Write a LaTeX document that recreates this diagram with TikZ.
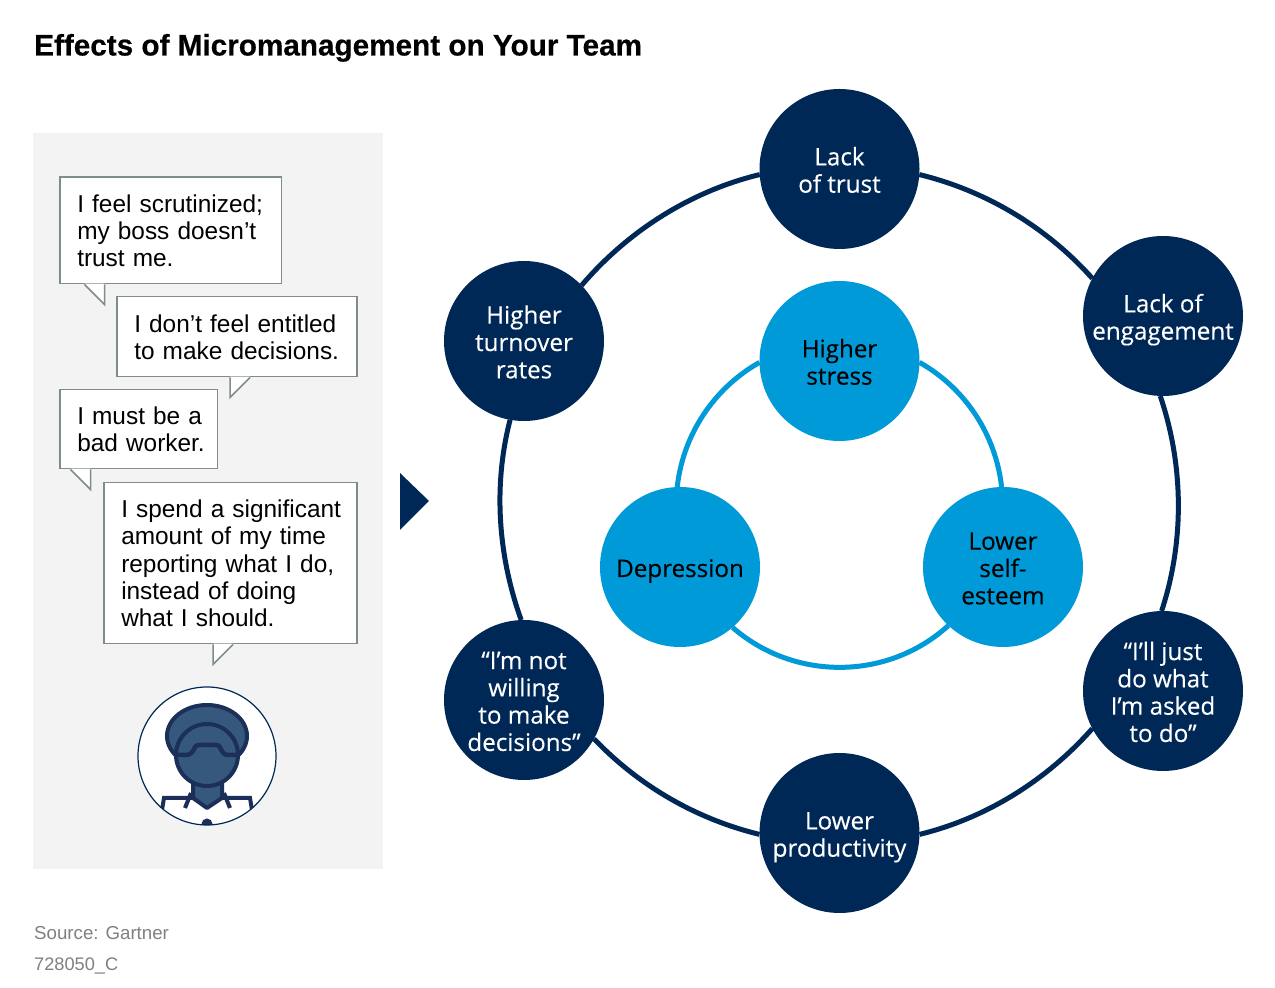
\documentclass[tikz,border=0pt]{standalone}
\usepackage{fontspec}
\setmainfont{Liberation Sans}
\newfontfamily\medfont[FakeBold=0.3]{Open Sans}
\newfontfamily\titlefont[FakeBold=0.4]{Liberation Sans}
\newcommand{\topstrut}{\rule{0pt}{28pt}}
\newcommand{\botstrut}{\rule[-8pt]{0pt}{8pt}}
\definecolor{navy}{HTML}{002856}
\definecolor{sky}{HTML}{009AD9}
\definecolor{panelgray}{HTML}{F3F3F3}
\definecolor{bubbleline}{HTML}{7F8C8C}
\definecolor{sourcegray}{HTML}{808080}
\definecolor{personfill}{HTML}{36587C}
\definecolor{personline}{HTML}{1B2F58}
\tikzset{
  outernode/.style={circle, fill=navy, text=white, minimum size=160pt, inner sep=-10pt, outer sep=0pt, align=center, font=\medfont\fontsize{24.2}{27.3}\selectfont, execute at end node=\botstrut},
  innernode/.style={circle, fill=sky, text=black, minimum size=160pt, inner sep=-10pt, outer sep=0pt, align=center, font=\medfont\fontsize{24.2}{27.3}\selectfont, execute at end node=\botstrut},
  outerlink/.style={navy, line width=5pt, looseness=0.87},
  innerlink/.style={sky, line width=5pt, looseness=0.9},
  bubble/.style={draw=bubbleline, fill=white, line width=1.5pt, anchor=north west, inner sep=0pt, align=left, font=\fontsize{24.4}{27.3}\selectfont, execute at begin node=\rule{0pt}{26pt}, execute at end node=\botstrut},
  personpart/.style={draw=personline, fill=personfill, line width=4pt},
}
\begin{document}
\begin{tikzpicture}[x=1pt, y=1pt]
	\path[use as bounding box, fill=white] (0, 0) rectangle (1275, 988) ;

	\node[anchor=base west, inner sep=0pt, font=\titlefont\bfseries\fontsize{29.7}{32}\selectfont] (title) at (34, 932.5) {Effects of Micromanagement on Your Team} ;

	\fill[panelgray] (33, 119) rectangle (383, 855) ;

	% speech bubbles
	\node[bubble, minimum width=221.5pt, minimum height=106.5pt, text width=186.5pt] (feel) at (59, 811.5) {\mbox{I feel scrutinized;}\\my boss doesn’t\\trust me.} ;
	\node[bubble, minimum width=240pt, minimum height=80pt, text width=205pt] (entitled) at (116, 692) {\mbox{I don’t feel entitled}\\\mbox{to make decisions.}} ;
	\node[bubble, minimum width=157.5pt, minimum height=79pt, text width=122.5pt] (worker) at (59, 599) {\mbox{I must be a}\\\mbox{bad worker.}} ;
	\node[bubble, minimum width=253pt, minimum height=161pt, text width=218pt] (spend) at (103, 506) {\mbox{I spend a significant}\\amount of my time\\reporting what I do,\\instead of doing\\what I should.} ;
	\foreach \name/\from/\tip/\to in {feel/25.5/45.5/45.5, entitled/114/114/134, worker/11.5/31.5/31.5, spend/110/110/130} {
		\fill[white] ([shift={(\from, 0.8)}]\name.south west) -- ([shift={(\tip, -20)}]\name.south west) -- ([shift={(\to, 0.8)}]\name.south west) -- cycle ;
		\draw[bubbleline, line width=1.5pt] ([shift={(\from, 0)}]\name.south west) -- ([shift={(\tip, -20)}]\name.south west) -- ([shift={(\to, 0)}]\name.south west) ;
	}

	% person
	\begin{scope}[shift={(207, 232)}]
		\fill[white] (0, 0) circle (69) ;
		\begin{scope}
			\clip (0, 0) circle (69) ;
			\draw[personline, line width=4pt, fill=white] (-45, -54) -- (-43, -42) -- (43, -42) -- (45, -54) ;
			\draw[personpart] (0, 20) ellipse (40 and 31) ;
			\draw[personpart, line join=round] (-14, -24) -- (-14, -42) -- (0, -52) -- (15, -42) -- (15, -24) ;
			\draw[personline, line width=4pt] (-16, -37) -- (-22, -52) ;
			\draw[personline, line width=4pt] (17, -37) -- (23, -52) ;
			\draw[personpart] (0, 1) circle (31) ;
			\draw[personline, line width=4.5pt] (-31, 1) -- (-21, 1) to[out=0, in=-110] (-12, 9) to[out=70, in=180] (-7, 11) -- (8, 11) to[out=0, in=110] (13, 9) to[out=-70, in=180] (21, 1) -- (31, 1) ;
			\fill[personline] (0, -68) circle (5.5) ;
		\end{scope}
		\draw[navy, line width=1.2pt] (0, 0) circle (69) ;
	\end{scope}

	\fill[navy] (400, 515) -- (429, 487) -- (400, 458) -- cycle ;

	% outer ring
	\node[outernode] (trust) at (839.5, 819) {\topstrut Lack\\of trust} ;
	\node[outernode] (engagement) at (1163, 672) {\topstrut Lack of\\engagement} ;
	\node[outernode] (asked) at (1163, 297) {\topstrut “I’ll just\\do what\\I’m asked\\to do”} ;
	\node[outernode] (productivity) at (839.5, 155) {\topstrut Lower\\productivity} ;
	\node[outernode] (willing) at (524, 288) {\topstrut “I’m not\\willing\\to make\\decisions”} ;
	\node[outernode] (turnover) at (524, 647) {\topstrut Higher\\turnover\\rates} ;

	\draw[outerlink] (trust.-4.7) to[out=-13.6, in=131.75] (engagement.152.6) ;
	\draw[outerlink] (engagement.-92.1) to[out=-71.2, in=71.77] (asked.91.4) ;
	\draw[outerlink] (asked.208.9) to[out=-131.5, in=13.65] (productivity.-1) ;
	\draw[outerlink] (productivity.181) to[out=166.35, in=-46.34] (willing.-29.2) ;
	\draw[outerlink] (willing.92.7) to[out=109.86, in=255.47] (turnover.260.5) ;
	\draw[outerlink] (turnover.44.4) to[out=49.53, in=193.6] (trust.184.7) ;

	% inner ring
	\node[innernode] (stress) at (839.5, 627) {\topstrut Higher\\stress} ;
	\node[innernode] (esteem) at (1003, 421) {\topstrut Lower\\self-\\esteem} ;
	\node[innernode] (depression) at (680, 421) {\topstrut Depression} ;

	\draw[innerlink] (stress.-1.4) to[out=-29.4, in=96.3] (esteem.91.4) ;
	\draw[innerlink, looseness=0.97] (esteem.227.2) to[out=-137.7, in=-41.1] (depression.-49.6) ;
	\draw[innerlink] (depression.92.1) to[out=83.7, in=209.4] (stress.181.4) ;

	\node[anchor=base west, inner sep=0pt, text=sourcegray, font=\fontsize{18.7}{22}\selectfont] (source) at (34, 48) {Source: Gartner} ;
	\node[anchor=base west, inner sep=0pt, text=sourcegray, font=\fontsize{18.2}{22}\selectfont] (code) at (34, 17) {728050\_C} ;
\end{tikzpicture}
\end{document}
